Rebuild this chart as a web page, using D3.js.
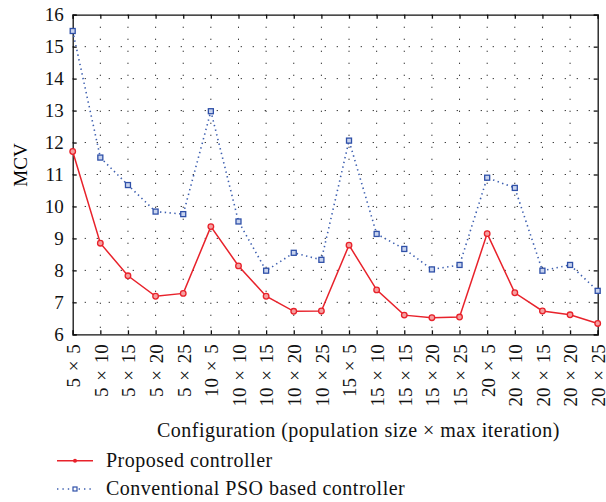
<!DOCTYPE html>
<html>
<head>
<meta charset="utf-8">
<script src="https://cdn.jsdelivr.net/npm/d3@7"></script>
<style>
	body { margin: 0; background: #fff; }
	svg { display: block; }
	svg text { font-family: "Liberation Serif", "DejaVu Serif", serif; }
	.grid line { stroke: #222; stroke-width: 1; stroke-dasharray: 1.2 10.8; }
	.axis path, .axis line { stroke: #111; stroke-width: 1.3; }
	.axis text { font-size: 19px; fill: #111; }
	.label { font-size: 20px; letter-spacing: 0.5px; fill: #111; }
</style>
</head>
<body>
<svg width="606" height="502"></svg>
<script>
const categories = ["5 × 5", "5 × 10", "5 × 15", "5 × 20", "5 × 25",
	"10 × 5", "10 × 10", "10 × 15", "10 × 20", "10 × 25",
	"15 × 5", "15 × 10", "15 × 15", "15 × 20", "15 × 25",
	"20 × 5", "20 × 10", "20 × 15", "20 × 20", "20 × 25"];
const proposed = [11.72, 8.85, 7.83, 7.19, 7.28, 9.37, 8.14, 7.19, 6.72, 6.73,
	8.79, 7.39, 6.60, 6.52, 6.54, 9.15, 7.30, 6.73, 6.61, 6.34];
const pso = [15.49, 11.53, 10.67, 9.84, 9.76, 12.98, 9.53, 7.99, 8.55, 8.33,
	12.06, 9.14, 8.67, 8.03, 8.17, 10.90, 10.58, 7.99, 8.17, 7.36];
const yTicks = [6, 7, 8, 9, 10, 11, 12, 13, 14, 15, 16];
const seriesNames = ["Proposed controller", "Conventional PSO based controller"];

const svg = d3.select("svg");
const plotLeft = 72.7, plotRight = 597.7, plotTop = 14.7, plotBottom = 334.3;

const xScale = d3.scalePoint().domain(categories).range([plotLeft, plotRight]);
const yScale = d3.scaleLinear().domain([6, 16]).range([plotBottom, plotTop]);

// dotted grid
const grid = svg.append("g").attr("class", "grid");
grid.selectAll(".gy")
	.data(yTicks.slice(1, -1))
	.enter().append("line")
	.attr("x1", plotLeft).attr("x2", plotRight)
	.attr("y1", d => yScale(d)).attr("y2", d => yScale(d));
grid.selectAll(".gx")
	.data(categories.slice(1, -1))
	.enter().append("line")
	.attr("x1", d => xScale(d)).attr("x2", d => xScale(d))
	.attr("y1", plotTop).attr("y2", plotBottom);

// axes, ticks inward on all sides
svg.append("g").attr("class", "axis")
	.attr("transform", `translate(${plotLeft},0)`)
	.call(d3.axisLeft(yScale).tickValues(yTicks).tickSize(-4).tickPadding(9).tickFormat(d3.format("d")));
svg.append("g").attr("class", "axis")
	.attr("transform", `translate(${plotRight},0)`)
	.call(d3.axisRight(yScale).tickValues(yTicks).tickSize(-4).tickFormat(""));
svg.append("g").attr("class", "axis")
	.attr("transform", `translate(0,${plotTop})`)
	.call(d3.axisTop(xScale).tickSize(-4).tickFormat(""));
const xg = svg.append("g").attr("class", "axis")
	.attr("transform", `translate(0,${plotBottom})`)
	.call(d3.axisBottom(xScale).tickSize(-4));
xg.selectAll("text")
	.attr("transform", "rotate(-90)")
	.attr("text-anchor", "end")
	.attr("x", -10)
	.attr("y", 0)
	.attr("dy", "0.36em")
	.style("word-spacing", "2px");
svg.selectAll(".axis path").attr("stroke-width", 1.5);

// axis labels
svg.append("text")
	.attr("transform", "translate(27,165) rotate(-90)")
	.attr("text-anchor", "middle")
	.style("font-size", "19px")
	.text("MCV");
svg.append("text").attr("class", "label")
	.attr("x", 157).attr("y", 437)
	.text("Configuration (population size × max iteration)");

// series
const line = d3.line().x((d, i) => xScale(categories[i])).y(d => yScale(d));

svg.append("path").datum(pso)
	.attr("fill", "none").attr("stroke", "#3d5fb0").attr("stroke-width", 1.6)
	.attr("stroke-dasharray", "1.4 3.4")
	.attr("d", line);
svg.selectAll(".sq").data(pso).enter().append("rect")
	.attr("x", (d, i) => xScale(categories[i]) - 2.5)
	.attr("y", d => yScale(d) - 2.5)
	.attr("width", 5).attr("height", 5)
	.attr("fill", "#c9d4ee").attr("stroke", "#2f50a8").attr("stroke-width", 1.3);

svg.append("path").datum(proposed)
	.attr("fill", "none").attr("stroke", "#e8222b").attr("stroke-width", 1.5)
	.attr("d", line);
svg.selectAll(".ci").data(proposed).enter().append("circle")
	.attr("cx", (d, i) => xScale(categories[i]))
	.attr("cy", d => yScale(d))
	.attr("r", 2.8)
	.attr("fill", "#f5a0a0").attr("stroke", "#e8222b").attr("stroke-width", 1.3);

// legend
const legend = svg.append("g");
legend.append("line")
	.attr("x1", 57).attr("x2", 93).attr("y1", 460.7).attr("y2", 460.7)
	.attr("stroke", "#e8222b").attr("stroke-width", 1.5);
legend.append("circle").attr("cx", 75).attr("cy", 460.7).attr("r", 2)
	.attr("fill", "#e8222b");
legend.append("text").attr("class", "label").attr("x", 106).attr("y", 466.5)
	.text(seriesNames[0]);
legend.append("line")
	.attr("x1", 57).attr("x2", 93).attr("y1", 489).attr("y2", 489)
	.attr("stroke", "#3d5fb0").attr("stroke-width", 1.5)
	.attr("stroke-dasharray", "1.4 4");
legend.append("rect").attr("x", 73).attr("y", 487).attr("width", 4).attr("height", 4)
	.attr("fill", "#fff").attr("stroke", "#2f50a8").attr("stroke-width", 1.2);
legend.append("text").attr("class", "label").attr("x", 106).attr("y", 494.5)
	.text(seriesNames[1]);
</script>
</body>
</html>
